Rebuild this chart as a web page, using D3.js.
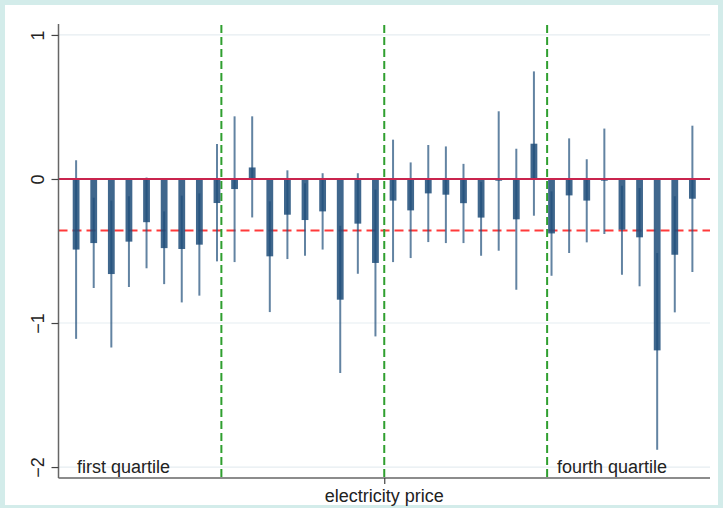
<!DOCTYPE html>
<html>
<head>
<meta charset="utf-8">
<script src="https://cdn.jsdelivr.net/npm/d3@7/dist/d3.min.js"></script>
<style>
  html, body { margin: 0; padding: 0; background: #d3ecea; }
  svg { display: block; font-family: "Liberation Sans", Arial, Helvetica, sans-serif; }
</style>
</head>
<body>
<svg id="chart" width="723" height="508"></svg>
<script>
// ---- data ----
const categories = [1,2,3,4,5,6,7,8,9,10,11,12,13,14,15,16,17,18,19,20,21,22,23,24,25,26,27,28,29,30,31,32,33,34,35,36];
const estimates = [-0.49,-0.445,-0.66,-0.435,-0.30,-0.48,-0.486,-0.456,-0.167,-0.07,0.08,-0.537,-0.248,-0.285,-0.225,-0.838,-0.31,-0.583,-0.15,-0.218,-0.10,-0.109,-0.168,-0.268,-0.012,-0.28,0.245,-0.378,-0.114,-0.15,-0.012,-0.352,-0.405,-1.19,-0.526,-0.137];
const ciLow = [-1.11,-0.757,-1.17,-0.75,-0.62,-0.73,-0.857,-0.81,-0.572,-0.577,-0.267,-0.924,-0.556,-0.533,-0.49,-1.347,-0.658,-1.093,-0.577,-0.549,-0.438,-0.445,-0.445,-0.533,-0.498,-0.769,-0.255,-0.672,-0.514,-0.44,-0.382,-0.665,-0.745,-1.88,-0.926,-0.646];
const ciHigh = [0.13,-0.13,-0.15,-0.12,0.01,-0.225,-0.116,-0.10,0.243,0.435,0.435,-0.155,0.06,-0.03,0.04,-0.325,0.04,-0.074,0.273,0.115,0.236,0.226,0.105,-0.02,0.47,0.21,0.747,-0.086,0.282,0.137,0.35,-0.047,-0.063,-0.514,-0.12,0.37];
const quartileLines = [9.25, 18.5, 27.75];
const meanLine = [-0.357];
const zeroLine = [0];
const yTicks = [1, 0, -1, -2];
const xTicks = [18.5];
const quartileLabels = ["first quartile", "fourth quartile"];
const xTitle = "electricity price";

// ---- layout ----
const svg = d3.select("#chart");
const W = 723, H = 508;
const plot = { left: 58.5, right: 710, top: 24, bottom: 478 };

svg.append("rect").attr("x", 5).attr("y", 5).attr("width", 713).attr("height", 500).attr("fill", "#ffffff");

const x = d3.scaleLinear().domain([0, 37]).range([plot.left, plot.right]);
const y = d3.scaleLinear().domain([-2.076, 1.076]).range([plot.bottom, plot.top]);

const data = categories.map((c, i) => ({ c, est: estimates[i], lo: ciLow[i], hi: ciHigh[i] }));

// gridlines
svg.append("g").selectAll("line").data(yTicks.filter(t => t !== 0)).join("line")
  .attr("x1", plot.left).attr("x2", plot.right)
  .attr("y1", d => y(d)).attr("y2", d => y(d))
  .attr("stroke", "#e6edf1").attr("stroke-width", 1.2);

// mean dashed red line
svg.append("g").selectAll("line").data(meanLine).join("line")
  .attr("x1", plot.left).attr("x2", plot.right)
  .attr("y1", d => y(d)).attr("y2", d => y(d))
  .attr("stroke", "#ff3a3a").attr("stroke-width", 2)
  .attr("stroke-dasharray", "9,5");

// quartile dashed green lines
svg.append("g").selectAll("line").data(quartileLines).join("line")
  .attr("x1", d => x(d)).attr("x2", d => x(d))
  .attr("y1", plot.top + 1).attr("y2", plot.bottom)
  .attr("stroke", "#2f9f2f").attr("stroke-width", 2)
  .attr("stroke-dasharray", "8,4");

// bars
const bw = 6.8;
svg.append("g").selectAll("rect").data(data).join("rect")
  .attr("x", d => x(d.c) - bw / 2)
  .attr("width", bw)
  .attr("y", d => y(Math.max(0, d.est)))
  .attr("height", d => Math.max(1.5, Math.abs(y(d.est) - y(0))))
  .attr("fill", "#1f4e7a").attr("fill-opacity", 0.86);

// CI lines
svg.append("g").selectAll("line").data(data).join("line")
  .attr("x1", d => x(d.c)).attr("x2", d => x(d.c))
  .attr("y1", d => y(d.hi)).attr("y2", d => y(d.lo))
  .attr("stroke", "#1f4e7a").attr("stroke-opacity", 0.7).attr("stroke-width", 2);

// zero line
svg.append("g").selectAll("line").data(zeroLine).join("line")
  .attr("x1", plot.left).attr("x2", plot.right)
  .attr("y1", d => y(d)).attr("y2", d => y(d))
  .attr("stroke", "#c9244e").attr("stroke-width", 2);

// y axis
const yAxis = d3.axisLeft(y).tickValues(yTicks).tickSize(7).tickFormat(d3.format("d"));
const gy = svg.append("g").attr("transform", `translate(${plot.left},0)`).call(yAxis);
gy.select(".domain").attr("d", `M0,${plot.top}V${plot.bottom}`).attr("stroke", "#666").attr("stroke-width", 1.5);
gy.selectAll(".tick line").attr("stroke", "#444").attr("stroke-width", 1.2);
gy.selectAll(".tick text")
  .attr("x", null).attr("dy", null)
  .attr("transform", "translate(-15,0) rotate(-90)")
  .attr("text-anchor", "middle")
  .attr("font-size", 18).attr("fill", "#222")
  .attr("font-family", "'Liberation Sans', Arial, sans-serif");

// x axis
const xAxis = d3.axisBottom(x).tickValues(xTicks).tickSize(6).tickFormat("");
const gx = svg.append("g").attr("transform", `translate(0,${plot.bottom})`).call(xAxis);
gx.select(".domain").attr("d", `M${plot.left},0H${plot.right}`).attr("stroke", "#666").attr("stroke-width", 1.5);
gx.selectAll(".tick line").attr("stroke", "#444").attr("stroke-width", 1.2);

svg.append("text").attr("x", x(18.5)).attr("y", 502)
  .attr("text-anchor", "middle").attr("font-size", 18).attr("fill", "#222")
  .text(xTitle);

// quartile labels
svg.append("text").attr("x", 77).attr("y", 473)
  .attr("font-size", 18).attr("fill", "#222").text(quartileLabels[0]);
svg.append("text").attr("x", 557).attr("y", 473)
  .attr("font-size", 18).attr("fill", "#222").text(quartileLabels[1]);
</script>
</body>
</html>
